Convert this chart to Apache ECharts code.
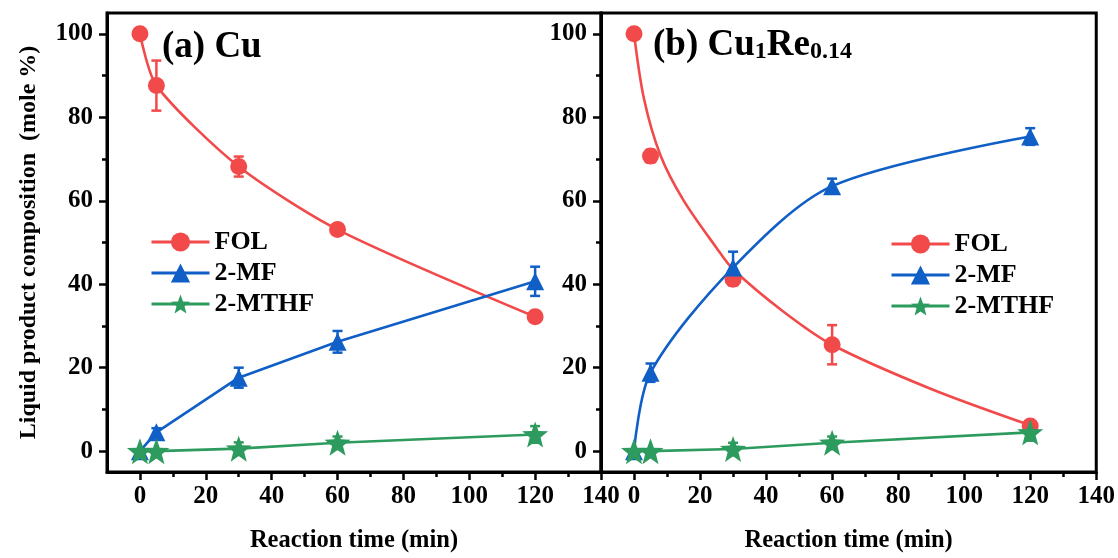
<!DOCTYPE html>
<html>
<head>
<meta charset="utf-8">
<script src="https://cdn.jsdelivr.net/npm/echarts@6/dist/echarts.min.js"></script>
<style>
  html, body { margin: 0; padding: 0; background: #fff; }
  #chart { width: 1118px; height: 558px; }
</style>
</head>
<body>
<div id="chart"></div>
<script>
// Sampling times (min)
const time = [0, 5, 30, 60, 120];

// (a) Cu catalyst: composition (mole %) and error bars
const cuFOL = [100, 87.6, 68.2, 53.1, 32.2];
const cuFOLErr = [0, 6.0, 2.4, 1.2, 1.2];
const cuMF = [0, 4.5, 17.6, 26.2, 40.7];
const cuMFErr = [0, 1.0, 2.4, 2.6, 3.5];
const cuMTHF = [0, 0, 0.6, 2.0, 4.0];
const cuMTHFErr = [0, 0, 1.5, 1.5, 2.0];

// (b) Cu1Re0.14 catalyst
const reFOL = [100, 70.7, 41.2, 25.5, 6.0];
const reFOLErr = [0, 1.5, 1.5, 4.7, 1.0];
const reMF = [0, 18.8, 44.0, 63.5, 75.4];
const reMFErr = [0, 2.2, 3.8, 1.8, 2.0];
const reMTHF = [0, 0, 0.5, 2.0, 4.5];
const reMTHFErr = [0, 0, 1.5, 1.5, 2.0];

// Fitted FOL decay curve for (b)
const reFOLFitT = [0, 3, 8, 15, 25, 30, 45, 60, 90, 120];
const reFOLFitV = [100, 84.5, 70.9, 60.1, 48.7, 43.6, 33.6, 25.5, 14.9, 6.2];

// Axis ticks
const xMajor = [0, 20, 40, 60, 80, 100, 120, 140];
const xMinor = [10, 30, 50, 70, 90, 110, 130];
const yMajor = [0, 20, 40, 60, 80, 100];
const yMinor = [10, 30, 50, 70, 90];

const names = ['FOL', '2-MF', '2-MTHF'];
const RED = '#F24A4A', BLUE = '#0F5FC6', GREEN = '#2E9B5E';
const STAR = 'path://M50,0 L62.5,33.5 L98,34.5 L70,56.5 L79.6,91 L50,71 L20.4,91 L30,56.5 L2,34.5 L37.5,33.5 Z';
const FONT = '"Liberation Serif", "Times New Roman", serif';

const pairs = (xs, ys) => xs.map((t, i) => [t, ys[i]]);
const triples = (xs, ys, es) => xs.map((t, i) => [t, ys[i], es[i]]);

function errorBars(name, ax, color, vals, errs) {
  return {
    type: 'custom', name: name + ' err', xAxisIndex: ax, yAxisIndex: ax, z: 3,
    data: triples(time, vals, errs).filter(d => d[2] > 0),
    renderItem: function (params, api) {
      const x = api.value(0), y = api.value(1), e = api.value(2);
      const top = api.coord([x, y + e]);
      const bot = api.coord([x, y - e]);
      const w = 5;
      const st = { stroke: color, lineWidth: 2.5 };
      return {
        type: 'group',
        children: [
          { type: 'line', shape: { x1: top[0], y1: top[1], x2: bot[0], y2: bot[1] }, style: st },
          { type: 'line', shape: { x1: top[0] - w, y1: top[1], x2: top[0] + w, y2: top[1] }, style: st },
          { type: 'line', shape: { x1: bot[0] - w, y1: bot[1], x2: bot[0] + w, y2: bot[1] }, style: st }
        ]
      };
    }
  };
}

function species(name, ax, color, symbol, size, vals, errs, curveData, smooth) {
  return [
    {
      type: 'line', name: name, xAxisIndex: ax, yAxisIndex: ax, z: 2,
      data: curveData, showSymbol: false, symbol: symbol, symbolSize: size,
      smooth: smooth,
      lineStyle: { color: color, width: 2.6 }, itemStyle: { color: color }
    },
    errorBars(name, ax, color, vals, errs),
    {
      type: 'scatter', name: name, xAxisIndex: ax, yAxisIndex: ax, z: 4,
      data: pairs(time, vals), symbol: symbol, symbolSize: size,
      itemStyle: { color: color, opacity: 1 }
    }
  ];
}

const labelStyle = { color: '#000', fontFamily: FONT, fontWeight: 'bold', fontSize: 25 };

function xAxes(grid) {
  return [
    {
      type: 'value', gridIndex: grid, min: -10, max: 140, position: 'bottom',
      name: 'Reaction time (min)', nameLocation: 'middle', nameGap: 56,
      nameTextStyle: { color: '#000', fontFamily: FONT, fontWeight: 'bold', fontSize: 24.5 },
      axisLine: { show: true, onZero: false, lineStyle: { color: '#000', width: 3 } },
      axisTick: { show: true, customValues: xMajor, length: 8, lineStyle: { color: '#000', width: 2.5 } },
      axisLabel: Object.assign({ customValues: xMajor, margin: 12 }, labelStyle),
      splitLine: { show: false }
    },
    {
      type: 'value', gridIndex: grid, min: -10, max: 140, position: 'bottom',
      axisLine: { show: false, onZero: false },
      axisTick: { show: true, customValues: xMinor, length: 5, lineStyle: { color: '#000', width: 2.5 } },
      axisLabel: { show: false }, splitLine: { show: false }
    }
  ];
}

function yAxes(grid, withName) {
  return [
    {
      type: 'value', gridIndex: grid, min: -5, max: 105, position: 'left',
      name: withName ? 'Liquid product composition  (mole %)' : '',
      nameLocation: 'middle', nameGap: 66,
      nameTextStyle: { color: '#000', fontFamily: FONT, fontWeight: 'bold', fontSize: 24 },
      axisLine: { show: true, onZero: false, lineStyle: { color: '#000', width: 3 } },
      axisTick: { show: true, customValues: yMajor, length: 8, lineStyle: { color: '#000', width: 2.5 } },
      axisLabel: Object.assign({ customValues: yMajor, margin: 14 }, labelStyle),
      splitLine: { show: false }
    },
    {
      type: 'value', gridIndex: grid, min: -5, max: 105, position: 'left',
      axisLine: { show: false, onZero: false },
      axisTick: { show: true, customValues: yMinor, length: 5, lineStyle: { color: '#000', width: 2.5 } },
      axisLabel: { show: false }, splitLine: { show: false }
    }
  ];
}

const series = [].concat(
  species('FOL', 0, RED, 'circle', 17, cuFOL, cuFOLErr, pairs(time, cuFOL), 0.25),
  species('2-MF', 0, BLUE, 'triangle', 18, cuMF, cuMFErr, pairs(time, cuMF), false),
  species('2-MTHF', 0, GREEN, STAR, 26, cuMTHF, cuMTHFErr, pairs(time, cuMTHF), false),
  species('FOL', 2, RED, 'circle', 17, reFOL, reFOLErr, pairs(reFOLFitT, reFOLFitV), 0.3),
  species('2-MF', 2, BLUE, 'triangle', 18, reMF, reMFErr, pairs(time, reMF), 0.3),
  species('2-MTHF', 2, GREEN, STAR, 26, reMTHF, reMTHFErr, pairs(time, reMTHF), false)
);

const legendBase = {
  data: names, orient: 'vertical', selectedMode: false,
  itemWidth: 58, itemHeight: 24, itemGap: 5, padding: 0,
  lineStyle: { width: 3 },
  textStyle: { color: '#000', fontFamily: FONT, fontWeight: 'bold', fontSize: 26, lineHeight: 25 }
};

const option = {
  animation: false,
  backgroundColor: '#fff',
  grid: [
    { left: 107, top: 13, width: 494, height: 462, show: true, borderColor: '#000', borderWidth: 3, containLabel: false },
    { left: 601, top: 13, width: 497, height: 462, show: true, borderColor: '#000', borderWidth: 3, containLabel: false }
  ],
  xAxis: xAxes(0).concat(xAxes(1)),
  yAxis: yAxes(0, true).concat(yAxes(1, false)),
  legend: [
    Object.assign({ left: 150, top: 229 }, legendBase),
    Object.assign({ left: 890, top: 231 }, legendBase)
  ],
  graphic: [
    {
      type: 'text', left: 162, top: 29, z: 10,
      style: { text: '(a) Cu', fill: '#000', font: 'bold 37px ' + FONT }
    },
    {
      type: 'text', left: 653, top: 27, z: 10,
      style: {
        text: '{n|(b) Cu}{s|1}{n|Re}{s|0.14}',
        rich: {
          n: { fontFamily: FONT, fontWeight: 'bold', fontSize: 37, lineHeight: 42, verticalAlign: 'bottom', fill: '#000' },
          s: { fontFamily: FONT, fontWeight: 'bold', fontSize: 24, lineHeight: 14, verticalAlign: 'bottom', fill: '#000' }
        }
      }
    }
  ],
  series: series
};

const chart = echarts.init(document.getElementById('chart'), null, { renderer: 'canvas' });
chart.setOption(option);
</script>
</body>
</html>
